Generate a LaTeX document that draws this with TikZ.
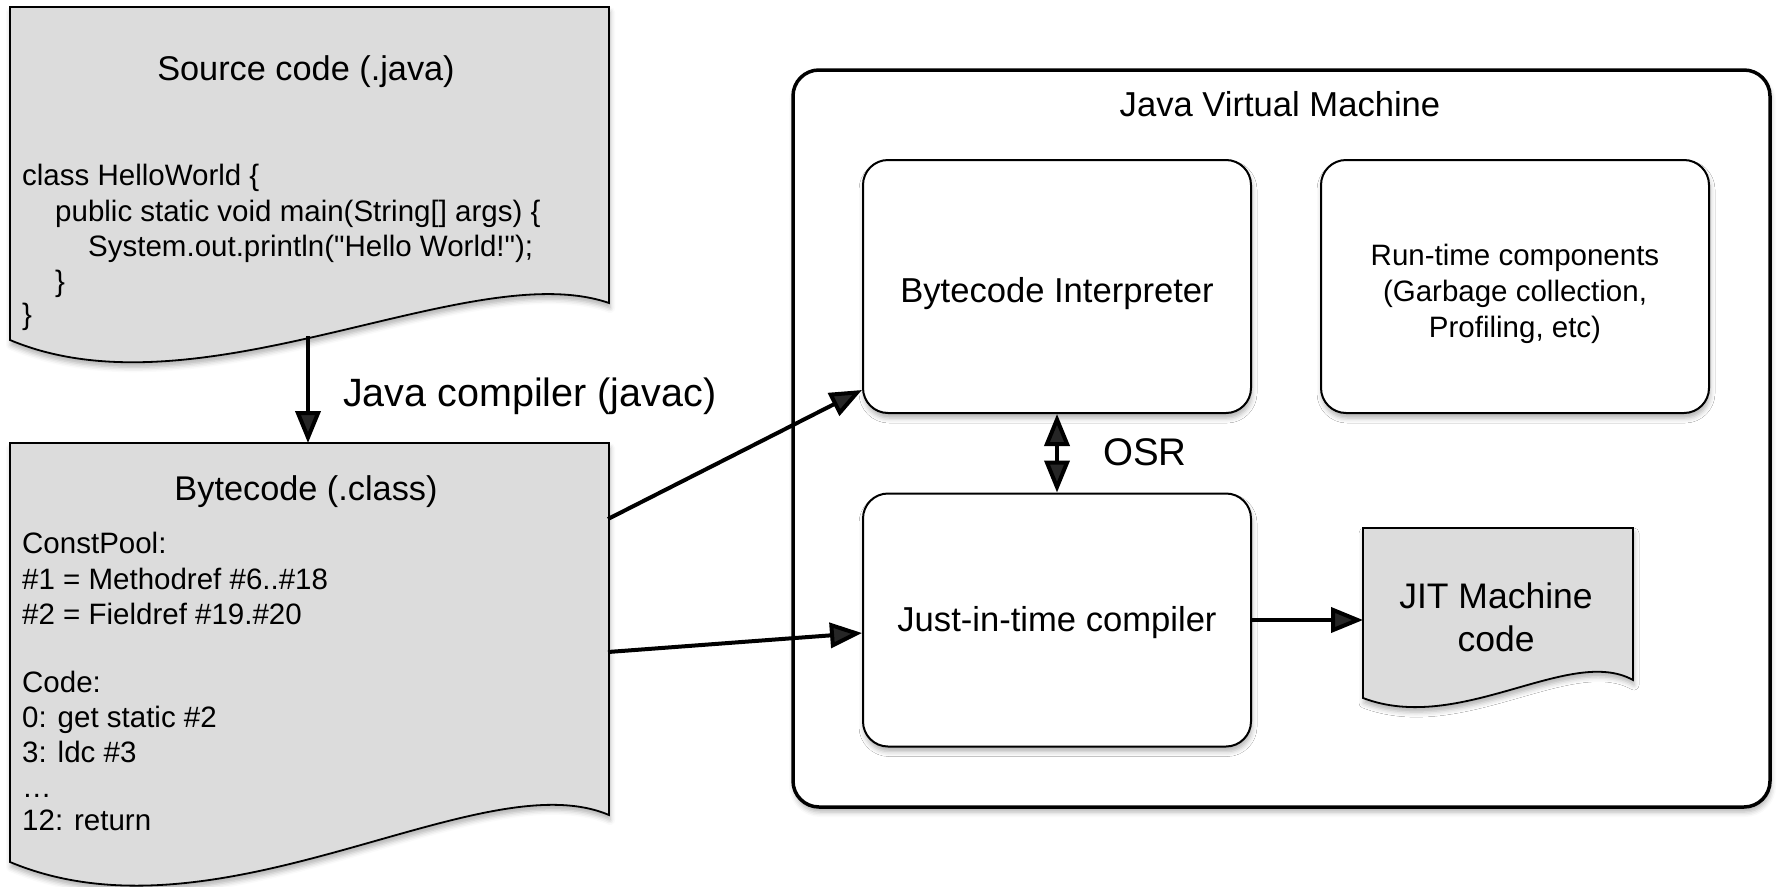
\documentclass[tikz,border=0pt]{standalone}
\usepackage{fontspec}
\setmainfont{Liberation Sans}[Ligatures=TeXOff]
\usetikzlibrary{arrows.meta,shadows.blur,calc}
\definecolor{docgray}{RGB}{220,220,220}
\newcommand{\fsz}[2]{\fontsize{#1}{#2}\selectfont}
\tikzset{
  shd/.style={blur shadow={shadow xshift=1pt, shadow yshift=-5pt, shadow blur radius=5pt, shadow opacity=30}},
  docshape/.style={draw=black, line width=1.8pt, fill=docgray, shd},
  rbox/.style={draw=black, line width=2pt, fill=white, rounded corners=25pt,
    minimum width=388pt, minimum height=253pt, inner sep=0pt, shd},
  jvmbox/.style={draw=black, line width=3.5pt, fill=white, rounded corners=26pt, shd},
  code/.style={anchor=mid west, inner sep=0pt, font=\fsz{29.5}{35}},
  doctitle/.style={anchor=mid, inner sep=0pt, font=\fsz{34.3}{40}},
  label/.style={anchor=mid, inner sep=0pt, font=\fsz{34.6}{41}},
  boxtext/.style={anchor=center, inner sep=0pt, align=center},
  arr/.style={line width=4pt, -{Triangle[length=32pt,width=25pt]}},
  dblarr/.style={line width=4pt, {Triangle[length=32pt,width=25pt]}-{Triangle[length=32pt,width=25pt]}},
}
\begin{document}
\begin{tikzpicture}[x=1pt,y=-1pt]
\useasboundingbox (0,0) rectangle (1779,886);

% ---------- Source code document ----------
\draw[docshape] (10,7) -- (609,7) -- (609,303)
  .. controls (470,255) and (200,420) .. (10,340) -- cycle;
\node[doctitle] (srctitle) at (306,78) {Source code (.java)};
\node[code] (s1) at (22,183) {class HelloWorld \{};
\node[code] (s2) at (55,219) {public static void main(String[] args) \{};
\node[code] (s3) at (88,254) {System.out.println("Hello World!");};
\node[code] (s4) at (55,289) {\}};
\node[code] (s5) at (22,322) {\}};
\coordinate (srcout) at (308,336);

% ---------- Bytecode document ----------
\draw[docshape] (10,443) -- (609,443) -- (609,815)
  .. controls (480,760) and (220,950) .. (10,862) -- cycle;
\node[doctitle] (bctitle) at (306,498) {Bytecode (.class)};
\node[code] (b1) at (22,551) {ConstPool:};
\node[code] (b2) at (22,587) {\#1 = Methodref \#6..\#18};
\node[code] (b3) at (22,622) {\#2 = Fieldref \#19.\#20};
\node[code] (b4) at (22,690) {Code:};
\node[code] (b5) at (22,725) {0: get static \#2};
\node[code] (b6) at (22,760) {3: ldc \#3};
\node[code] (b7) at (22,795) {…};
\node[code] (b8) at (22,828) {12: return};
\coordinate (bcin) at (308,443);
\coordinate (bcout1) at (608,519);
\coordinate (bcout2) at (608,652);

% ---------- JVM ----------
\draw[jvmbox] (793,70) rectangle (1770,807);
\node[label] (jvmtitle) at (1280,114) {Java Virtual Machine};

\node[rbox] (bi) at (1057,286.5) {};
\node[rbox] (rt) at (1515,286.5) {};
\node[rbox] (jit) at (1057,620) {};
\node[boxtext, font=\fsz{34.6}{41}] (bitext) at (1057,293.5) {Bytecode Interpreter};
\node[boxtext, font=\fsz{29.5}{36}] (rttext) at (1515,293.5) {Run-time components\\(Garbage collection,\\Profiling, etc)};
\node[boxtext, font=\fsz{34.6}{41}] (jittext) at (1057,623) {Just-in-time compiler};

% ---------- JIT machine code document ----------
\draw[docshape] (1363,528) -- (1633,528) -- (1633,680)
  .. controls (1570,645) and (1460,735) .. (1363,698) -- cycle;
\node[boxtext, font=\fsz{35.5}{43}] (jitcode) at (1496,617) {JIT Machine\\code};
\coordinate (jdin) at (1363,620);

% ---------- connectors ----------
\draw[arr] (srcout) -- (bcin);
\node[anchor=mid west, inner sep=0pt, font=\fsz{39.5}{47}] (javac) at (343,404) {Java compiler (javac)};
\draw[arr] (bcout1) -- ([yshift=-103.5pt]bi.west);
\draw[arr] (bcout2) -- ([yshift=-13pt]jit.west);
\draw[arr] (jit.east) -- (jdin);
\draw[dblarr] (bi.south) -- (jit.north);
\node[anchor=mid west, inner sep=0pt, font=\fsz{38.5}{46}] (osr) at (1103,463) {OSR};
\end{tikzpicture}
\end{document}
